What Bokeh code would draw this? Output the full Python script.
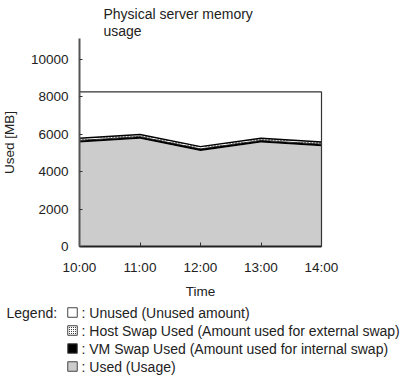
from bokeh.plotting import figure
from bokeh.models import Range1d, FixedTicker, LinearAxis
from bokeh.embed import file_html
from bokeh.resources import INLINE
from bokeh.core.properties import value

# ---- data ----
times = ["10:00", "11:00", "12:00", "13:00", "14:00"]
used = [5550, 5750, 5100, 5550, 5350]
vm_swap = [110, 110, 110, 110, 110]
host_swap = [120, 120, 120, 120, 120]
capacity = 8250
y_ticks = [0, 2000, 4000, 6000, 8000, 10000]
title_lines = ["Physical server memory", "usage"]
legend_items = [
    "Unused (Unused amount)",
    "Host Swap Used (Amount used for external swap)",
    "VM Swap Used (Amount used for internal swap)",
    "Used (Usage)",
]

FONT = "Liberation Sans"
TXT = "#222222"
GREY = "#cccccc"

xs = list(range(len(times)))
s1 = used
s2 = [a + b for a, b in zip(s1, vm_swap)]
s3 = [a + b for a, b in zip(s2, host_swap)]
zeros = [0] * len(xs)
caps = [capacity] * len(xs)

# ---- layout (canvas pixels) ----
W, H = 409, 379
X0, X1 = 79, 321        # pixel of first / last time
Y0, YT = 246, 38        # pixel of 0 and of the y axis top
Y_TOP = 11100           # value at the y axis top
n = len(times) - 1
ux = (X1 - X0) / n               # px per x unit
uy = (Y0 - YT) / Y_TOP           # px per y unit

def dx(px):
    return (px - X0) / ux

def dy(py):
    return (Y0 - py) / uy

p = figure(width=W, height=H, output_backend="svg", toolbar_location=None,
           x_range=Range1d(dx(0), dx(W)), y_range=Range1d(dy(H), dy(0)),
           min_border=0, x_axis_location=None, y_axis_location=None)
p.outline_line_color = None
p.grid.visible = False
p.background_fill_color = "white"

# stacked areas
p.varea(x=xs, y1=s3, y2=caps, fill_color="white")
p.varea(x=xs, y1=zeros, y2=s1, fill_color=GREY)
p.varea(x=xs, y1=s1, y2=s2, fill_color="black")
p.varea(x=xs, y1=s2, y2=s3, fill_color="white", hatch_pattern=".",
        hatch_color="black", hatch_scale=3, hatch_weight=1.5)
p.line(x=xs, y=s3, line_color="black", line_width=1.5)
p.line(x=xs, y=s2, line_color="black", line_width=0.8)

# frame for total physical memory
p.line(x=[xs[0], xs[-1], xs[-1]], y=[capacity, capacity, 0],
       line_color="#333333", line_width=1.2)

# axes
xa = LinearAxis(fixed_location=0, bounds=(0, n))
xa.ticker = FixedTicker(ticks=xs)
xa.major_label_overrides = {i: t for i, t in enumerate(times)}
xa.axis_label = "Time"
xa.axis_line_width = 2
xa.axis_line_color = "#222222"
xa.major_tick_in = 4
xa.major_tick_out = 0
xa.major_label_standoff = 13
xa.axis_label_standoff = 6

ya = LinearAxis(fixed_location=0, bounds=(0, Y_TOP))
ya.ticker = FixedTicker(ticks=y_ticks)
ya.axis_label = "Used [MB]"
ya.axis_line_width = 2
ya.axis_line_color = "#555555"
ya.major_tick_in = 3
ya.major_tick_out = 0
ya.major_label_standoff = 11
ya.axis_label_standoff = 11

for ax in (xa, ya):
    ax.minor_tick_line_color = None
    ax.major_label_text_font = FONT
    ax.major_label_text_font_size = "13.5px"
    ax.major_label_text_color = TXT
    ax.axis_label_text_font = FONT
    ax.axis_label_text_font_size = "13.5px"
    ax.axis_label_text_font_style = "normal"
    ax.axis_label_text_color = TXT
    ax.major_tick_line_color = "#333333"
p.add_layout(xa, "below")
p.add_layout(ya, "left")

# title
p.text(x=[dx(103)] * 2, y=[dy(13), dy(30)], text=title_lines,
       text_font=value(FONT), text_font_size="14px", text_color=TXT,
       text_baseline="middle")

# legend
rows = [312, 330, 348, 366]
p.text(x=[dx(6)], y=[dy(rows[0])], text=["Legend:"], text_font=value(FONT),
       text_font_size="14px", text_color=TXT, text_baseline="middle")
fills = ["white", "white", "black", GREY]
hatches = [" ", ".", " ", " "]
for r, f, h, lab in zip(rows, fills, hatches, legend_items):
    p.rect(x=[dx(72)], y=[dy(r)], width=9.5 / ux, height=9.5 / uy, fill_color=f,
           line_color="#444444", line_width=1, hatch_pattern=h,
           hatch_color="black", hatch_scale=2, hatch_weight=1)
    p.text(x=[dx(81)], y=[dy(r)], text=[": " + lab], text_font=value(FONT),
           text_font_size="14px", text_color=TXT, text_baseline="middle")

open("out.html", "w").write(file_html(p, INLINE))
